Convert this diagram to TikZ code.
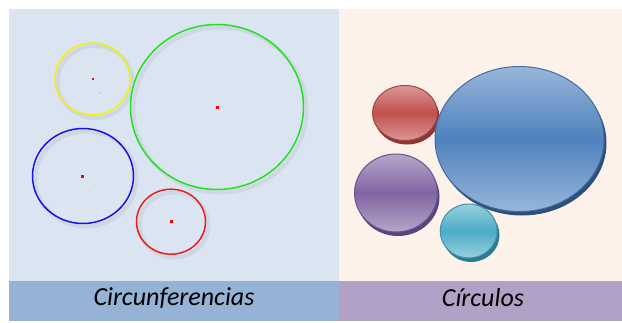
\documentclass[tikz,border=0pt]{standalone}
\usepackage{fontspec}
\newfontfamily\carl{Carlito}
\usetikzlibrary{shapes.geometric}
\definecolor{lpanel}{HTML}{DBE5F1}
\definecolor{lbar}{HTML}{95B3D7}
\definecolor{rpanel}{HTML}{FDF2E9}
\definecolor{rbar}{HTML}{B2A1C7}
\definecolor{cyel}{HTML}{F5F000}
\definecolor{cgrn}{HTML}{22E022}
\definecolor{cblu}{HTML}{1414E6}
\definecolor{cred}{HTML}{EE1C1C}
\definecolor{rmid}{HTML}{C0504D}\definecolor{rlt}{HTML}{DC9896}\definecolor{rdk}{HTML}{8E3634}
\definecolor{bmid}{HTML}{4F81BD}\definecolor{blt}{HTML}{98B6DA}\definecolor{bdk}{HTML}{2C4F7C}
\definecolor{pmid}{HTML}{8064A2}\definecolor{plt}{HTML}{B6A6CA}\definecolor{pdk}{HTML}{5A4478}
\definecolor{cmid}{HTML}{4BACC6}\definecolor{clt}{HTML}{98D0DF}\definecolor{cdk}{HTML}{2E7A8F}
\tikzset{
  ring/.style={ellipse, draw=#1, line width=1.5pt, inner sep=0pt},
  ringshadow/.style={ellipse, draw=black!60, draw opacity=0.10, line width=4pt, inner sep=0pt},
  cdot/.style={fill=red, minimum size=2.6pt, inner sep=0pt, rectangle},
  gdot/.style={fill=black!25, minimum size=1.5pt, inner sep=0pt, rectangle},
  ball/.style args={#1/#2/#3}{ellipse, inner sep=0pt, top color=#2, bottom color=#2, middle color=#1, draw=#1!85!black, line width=1pt},
  ballshadow/.style={ellipse, inner sep=0pt, fill=#1},
  caption/.style={font=\carl\itshape\fontsize{26}{30}\selectfont, text=black, inner sep=0pt}
}
\begin{document}
\begin{tikzpicture}[x=1pt,y=-1pt]
\useasboundingbox[fill=white] (0,0) rectangle (622,322);
% panels
\fill[lpanel] (9,9) rectangle (339,281);
\fill[lbar] (9,281) rectangle (339,321);
\fill[rpanel] (339,9) rectangle (622,281);
\fill[rbar] (339,281) rectangle (622,321);
% left: circumferences shadows
\node[ringshadow, minimum width=75pt, minimum height=72pt] at (95,82) {};
\node[ringshadow, minimum width=173pt, minimum height=165pt] at (220,110) {};
\node[ringshadow, minimum width=101pt, minimum height=95pt] at (86,179) {};
\node[ringshadow, minimum width=69pt, minimum height=65pt] at (174,225) {};
% rings
\node[ring=cyel, minimum width=75pt, minimum height=72pt] (yel) at (92.5,79) {};
\node[ring=cgrn, minimum width=173pt, minimum height=165pt] (grn) at (217,107) {};
\node[ring=cblu, minimum width=101pt, minimum height=95pt] (blu) at (83,176) {};
\node[ring=cred, minimum width=69pt, minimum height=65pt] (red) at (171,221.7) {};
% centre dots
\node[cdot] (yc) at (93,79) {};
\node[cdot] (gc) at (217.7,107.5) {};
\node[cdot] (bc) at (82.7,176.5) {};
\node[cdot] (rc) at (171.3,221.7) {};
\node[gdot] (yg) at (100.5,93) {};
\node[gdot] (bg) at (89.5,190.5) {};
% right: circles shadows
\node[ballshadow=rdk, minimum width=65pt, minimum height=55pt] at (407,117) {};
\node[ballshadow=bdk, minimum width=169pt, minimum height=145pt] at (522,143) {};
\node[ballshadow=pdk, minimum width=83pt, minimum height=78pt] at (398,197) {};
\node[ballshadow=cdk, minimum width=57pt, minimum height=54pt] at (471,235) {};
% balls
\node[ball=rmid/rlt/rdk, minimum width=65pt, minimum height=55pt] (rb) at (405,113) {};
\node[ball=bmid/blt/bdk, minimum width=169pt, minimum height=145pt] (bb) at (519.5,139) {};
\node[ball=pmid/plt/pdk, minimum width=83pt, minimum height=78pt] (pb) at (396,193) {};
\node[ball=cmid/clt/cdk, minimum width=57pt, minimum height=54pt] (cb) at (468.7,231) {};
% captions
\node[caption] (lt) at (174,298) {Circunferencias};
\node[caption] (rt) at (483,298) {Círculos};
\end{tikzpicture}
\end{document}
